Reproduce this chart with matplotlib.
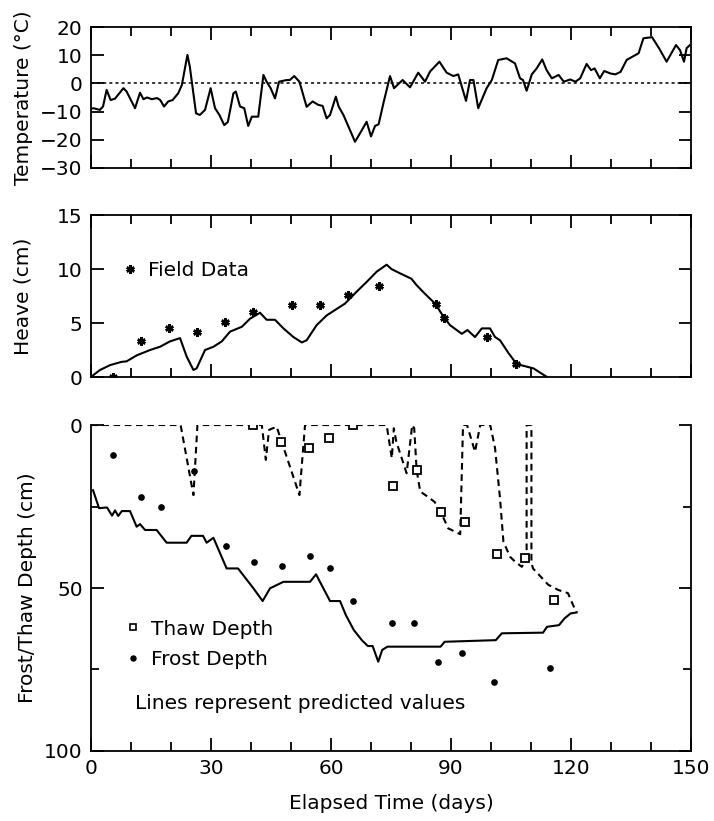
import matplotlib.pyplot as plt
import numpy as np
from matplotlib.ticker import MultipleLocator
from matplotlib.lines import Line2D

# air temperature (deg C) vs elapsed time (days)
temp_day = [0, 0.6, 2.2, 3, 3.9, 4.9, 6, 8.1, 8.9, 11, 12.25, 13.1, 14, 15.2, 16.5, 17.3, 18.25, 19.3, 20.4, 21.8,
            22.7, 24.1, 24.7, 26.25, 27.2, 28.5, 29.9, 31, 32.1, 33.3, 34.2, 35.6, 36.2, 37.25, 38.3, 39.3, 40.2, 41.8,
            43.1, 43.9, 44.9, 46, 47, 48.9, 49.7, 50.8, 52.1, 53.9, 55.4, 56.8, 57.9, 58.9, 59.75, 61.2, 61.9, 63.1,
            66, 67.25, 68.9, 70, 71, 71.9, 73.1, 74.75, 75.75, 77.9, 79.75, 81.8, 83.5, 84.75, 87.1, 88.9, 90.6, 91.8,
            93.75, 94.75, 95.6, 96.8, 98.9, 100.2, 101.8, 103.9, 106, 107.25, 108, 108.9, 110.2, 111.4, 112.8, 113.9,
            115.2, 116.9, 118.2, 119.8, 121.1, 122.3, 123.9, 125, 125.9, 127.2, 128.3, 129.9, 131.1, 132.4, 133.9,
            136.9, 138.1, 140.25, 142, 143.9, 146.25, 147.25, 148.25, 148.9, 149.75]
temp_c = [-9, -8.8, -9.4, -8.2, -2.3, -5.9, -5.4, -1.7, -2.9, -8.8, -3.3, -5.6, -5, -5.6, -5.2, -5.9, -8.2, -6.4, -5.9,
          -3.5, -0.6, 10.1, 5.9, -10.6, -11.2, -9.4, -1.7, -8.8, -11.2, -14.8, -13.7, -3.5, -2.9, -8.2, -8.8, -15.1,
          -11.8, -11.8, 3, 0.6, -1.7, -5.3, 0.6, 1.2, 1.2, 2.6, 0.6, -8.3, -6.4, -7.6, -8, -12.4, -11.2, -4.7, -8.2,
          -11.2, -20.7, -17.7, -13.6, -18.8, -15.1, -14.5, -7, 2.6, -1.7, 1.2, -1.4, 3.8, 0.6, 4.2, 7.7, 3.8, 2.6, 3.2,
          -6.2, 1.2, 1.2, -8.8, -1.7, 1.2, 8.3, 8.9, 7.1, 1.8, 1.2, -2.6, 3.2, 5.3, 8.5, 4.7, 1.8, 3, 0.6, 1.4, 0.6,
          1.8, 6.9, 4.7, 5.3, 1.8, 4.4, 3.5, 3.2, 4.1, 8.3, 10.7, 16, 16.4, 12.5, 7.7, 13.6, 11.8, 7.7, 12.5, 13.6]

# predicted heave (cm)
heave_day = [0, 1, 2.25, 4.75, 7.6, 8.9, 11.4, 14.75, 17.25, 19.75, 22.25, 23.9, 25.6, 26.4, 28.5, 30.6, 32.7, 34.75,
             37.7, 39.75, 42.25, 43.9, 46, 48.1, 50.6, 52.7, 53.9, 56.4, 58.9, 61.4, 63.5, 66.4, 68.9, 71.4, 73.9,
             75.1, 77.25, 80.1, 81.4, 83.5, 86, 88.1, 89.75, 92.7, 94.1, 96, 97.7, 99.75, 101, 102.25, 104.4, 106.4,
             108.5, 110.6, 114]
heave_cm = [0, 0.3, 0.65, 1.1, 1.4, 1.45, 2.0, 2.5, 2.8, 3.3, 3.6, 1.9, 0.65, 0.8, 2.5, 2.8, 3.3, 4.2, 4.65, 5.4,
            5.95, 5.3, 5.3, 4.5, 3.7, 3.2, 3.4, 4.8, 5.7, 6.3, 6.8, 7.9, 8.8, 9.75, 10.4, 10.0, 9.6, 9.1, 8.5, 7.7,
            6.8, 5.6, 4.8, 4.0, 4.35, 3.7, 4.5, 4.5, 3.7, 3.4, 2.2, 1.2, 1.0, 0.8, 0]

# measured heave
field_day = [5.4, 12.4, 19.5, 26.4, 33.5, 40.4, 50.3, 57.25, 64.2, 72.1, 86.2, 88.25, 99.1, 106.25]
field_heave = [0, 3.3, 4.5, 4.2, 5.1, 6.05, 6.7, 6.7, 7.6, 8.45, 6.75, 5.5, 3.7, 1.2]

# predicted thaw depth (cm)
thaw_day = [0, 22.4, 25.6, 26.6, 42.7, 43.7, 44.5, 46.4, 52.1, 53.5, 73.9, 75.2, 75.7, 76.3, 78.9, 80.3, 80.8, 81.4,
            82.3, 84.3, 85.9, 87.4, 89.3, 91.8, 92.3, 93.0, 94.0, 96.0, 97.3, 99.8, 101.0, 102.25, 103.1, 104.75,
            106.0, 107.7, 108.9, 108.9, 110.1, 110.1, 110.5, 114.3, 116.8, 119.25, 120.5, 121.4]
thaw_cm = [0, 0, 21.5, 0, 0, 10.7, 1.5, 0.5, 21.5, 0, 0, 10.2, 1, 5, 14.8, 0, 1, 13.8, 20.4, 22.1, 23.6, 26.6, 31.7,
           33.2, 33.5, 0, 0, 8.2, 0, 0, 7, 22.5, 35.8, 40.4, 41.9, 43.5, 41, 0, 0, 42.3, 44, 49, 50.6, 51.6, 55.2, 57.5]

# predicted frost depth (cm)
frost_day = [0.5, 2, 4, 5.25, 6, 6.8, 7.7, 9.75, 11.4, 12.25, 13.5, 16.4, 18.9, 23.9, 25.1, 28, 28.9, 30.6, 33.9,
             36.75, 40.6, 42.9, 44.75, 48.1, 54.75, 56.25, 59.75, 62.25, 63.7, 65.7, 67.7, 69.2, 70.4, 71.8, 72.8,
             74.1, 87.4, 88.4, 101.2, 102.7, 113, 114, 117, 118.4, 119.9, 121.4]
frost_cm = [20, 25.5, 25.3, 27.8, 26.2, 27.9, 26.4, 26.4, 31.2, 30.4, 32.2, 32.2, 36.1, 36.1, 34, 34, 36.1, 34.6, 44,
            44, 50.1, 54, 50.1, 48.1, 48.1, 45.8, 54, 54, 58.3, 62.9, 66, 67.8, 67.8, 72.6, 69, 68, 68, 66.5, 66, 63.9,
            63.7, 61.9, 61.4, 59.3, 57.8, 57.5]

# measured thaw / frost depth
thaw_obs_day = [40.6, 47.5, 54.5, 59.5, 65.4, 75.4, 81.4, 87.4, 93.5, 101.6, 108.4, 115.7]
thaw_obs_cm = [0, 5.1, 7.2, 4.1, 0, 18.7, 13.8, 26.8, 29.9, 39.7, 40.7, 53.7]
frost_obs_day = [5.4, 12.5, 17.5, 25.75, 33.75, 40.75, 47.8, 54.75, 59.75, 65.6, 75.2, 80.8, 86.7, 92.8, 100.8, 114.8]
frost_obs_cm = [9.2, 22.2, 25.1, 14, 37.1, 42.1, 43.2, 40.1, 44, 54, 60.7, 60.8, 72.6, 69.8, 78.7, 74.6]

x_ticks = [0, 30, 60, 90, 120, 150]

plt.rcParams['font.family'] = 'DejaVu Sans'
plt.rcParams['font.size'] = 14.5
plt.rcParams['axes.linewidth'] = 1.3

LW = 1.5


def style_x(ax, labels=False):
    ax.set_xlim(0, 150)
    ax.xaxis.set_major_locator(MultipleLocator(30))
    ax.xaxis.set_minor_locator(MultipleLocator(10))
    ax.tick_params(axis='x', which='major', direction='in', length=9.4, width=1.3, pad=6)
    ax.tick_params(axis='x', which='minor', direction='in', length=6.5, width=1.3)
    if not labels:
        ax.tick_params(axis='x', which='both', labelbottom=False)


fig = plt.figure(figsize=(7.14, 8.21), dpi=100)
ax1 = fig.add_axes([0.1275, 0.7954, 0.8403, 0.1717])
ax2 = fig.add_axes([0.1275, 0.5408, 0.8403, 0.1973])
ax3 = fig.add_axes([0.1275, 0.0853, 0.8403, 0.3970])

# temperature
ax1.plot(temp_day, temp_c, color='black', lw=LW)
ax1.axhline(0, color='black', lw=1.1, ls=(0, (2, 2)))
ax1.set_ylim(-30, 20)
ax1.yaxis.set_major_locator(MultipleLocator(10))
style_x(ax1)
ax1.tick_params(axis='x', which='both', top=True)
ax1.tick_params(axis='y', direction='in', length=9, width=1.3, right=True, pad=6)
ax1.set_ylabel('Temperature (°C)')
ax1.yaxis.set_label_coords(-0.097, 0.5)

# heave
ax2.plot(heave_day, heave_cm, color='black', lw=LW)
ax2.plot(field_day, field_heave, ls='none', marker=(6, 2, 0), ms=6, mew=1.8, color='black', label='Field Data')
ax2.set_ylim(0, 15)
ax2.yaxis.set_major_locator(MultipleLocator(5))
style_x(ax2)
ax2.tick_params(axis='x', which='both', top=True)
ax2.tick_params(axis='y', direction='in', length=9, width=1.3, right=True, pad=6)
ax2.set_ylabel('Heave (cm)')
ax2.yaxis.set_label_coords(-0.097, 0.5)
ax2.legend(loc='center left', bbox_to_anchor=(0.053, 0.66), frameon=False, handlelength=0.7,
           handletextpad=0.55, borderpad=0, borderaxespad=0, numpoints=1)

# frost / thaw depth
ax3.plot(thaw_day, thaw_cm, color='black', lw=LW, dashes=(3.2, 2.2))
ax3.plot(frost_day, frost_cm, color='black', lw=LW)
ax3.plot(thaw_obs_day, thaw_obs_cm, ls='none', marker='s', ms=5.5, mfc='white', mec='black', mew=1.3)
ax3.plot(frost_obs_day, frost_obs_cm, ls='none', marker='o', ms=3.8, color='black')
ax3.set_ylim(100, 0)
ax3.yaxis.set_major_locator(MultipleLocator(50))
ax3.yaxis.set_minor_locator(MultipleLocator(25))
style_x(ax3, labels=True)
ax3.set_xticks(x_ticks)
ax3.spines['top'].set_visible(False)
ax3.tick_params(axis='y', which='major', direction='in', length=9, width=1.3, right=True, pad=6)
ax3.tick_params(axis='y', which='minor', direction='in', length=5.8, width=1.3, right=True)
ax3.set_ylabel('Frost/Thaw Depth (cm)')
ax3.yaxis.set_label_coords(-0.09, 0.5)
ax3.set_xlabel('Elapsed Time (days)', labelpad=11)

handles = [Line2D([], [], ls='none', marker='s', ms=5, mfc='white', mec='black', mew=1.2),
           Line2D([], [], ls='none', marker='o', ms=3.6, color='black')]
ax3.legend(handles, ['Thaw Depth', 'Frost Depth'], loc='center left', bbox_to_anchor=(0.058, 0.328),
           frameon=False, handlelength=0.7, handletextpad=0.55, borderpad=0, borderaxespad=0,
           labelspacing=0.55, numpoints=1)
ax3.text(0.073, 0.147, 'Lines represent predicted values', transform=ax3.transAxes, va='center')

plt.savefig('out.png', dpi=100)
